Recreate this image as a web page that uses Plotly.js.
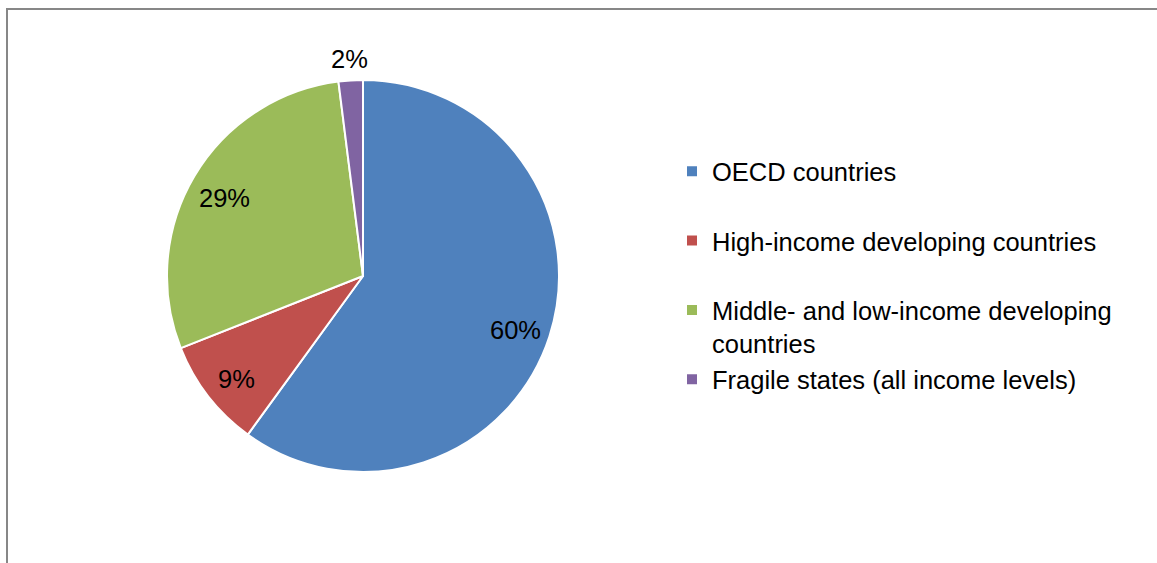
<!DOCTYPE html>
<html>
<head>
<meta charset="utf-8">
<script src="https://cdn.plot.ly/plotly-3.0.1.min.js"></script>
<style>
  html, body { margin: 0; padding: 0; background: #ffffff; }
  #chart { position: absolute; left: 0; top: 0; width: 1157px; height: 563px; }
  #bl { position: absolute; left: 6px; top: 8px; width: 2px; height: 555px; background: #878787; }
  #bt { position: absolute; left: 6px; top: 8px; width: 1151px; height: 2px; background: #878787; }
</style>
</head>
<body>
<div id="chart"></div>
<div id="bl"></div>
<div id="bt"></div>
<script>
const categories = [
  "OECD countries<br> ",
  "High-income developing countries<br> ",
  "Middle- and low-income developing<br>countries",
  "Fragile states (all income levels)"
];
const shares = [60, 9, 29, 2];
const colors = ["#4F81BD", "#C0504D", "#9BBB59", "#8064A2"];

const W = 1157, H = 563;
const mT = 80, mB = 91;
const cx = 363, r = 196;
const plotH = H - mT - mB;
const cy = mT + plotH / 2;
const FONT = "Liberation Sans, Arial, sans-serif";
const FS = 25.5;

// Data labels placed along each slice's mid-angle (clockwise from 12 o'clock)
const total = shares.reduce((a, b) => a + b, 0);
const annotations = [];
let cum = 0;
shares.forEach((v, i) => {
  const frac = v / total;
  const mid = (cum + frac / 2) * 2 * Math.PI;
  cum += frac;
  const outside = frac < 0.05;
  const rf = outside ? 1.11 : 0.82;
  const px = cx + Math.sin(mid) * r * rf;
  const py = cy - Math.cos(mid) * r * rf;
  annotations.push({
    xref: "paper", yref: "paper",
    x: px / W, y: (H - mB - py) / plotH,
    xanchor: "center", yanchor: "middle",
    yshift: outside ? 0 : -4,
    text: Math.round(frac * 100) + "%",
    showarrow: false,
    font: { family: FONT, size: FS, color: "#000000" }
  });
});

const data = [{
  type: "pie",
  labels: categories,
  values: shares,
  sort: false,
  direction: "clockwise",
  rotation: 0,
  marker: { colors: colors, line: { color: "#ffffff", width: 2 } },
  textinfo: "none",
  domain: { x: [(cx - r) / W, (cx + r) / W], y: [0, 1] },
  hoverinfo: "label+percent"
}];

const layout = {
  width: W, height: H,
  margin: { l: 0, r: 0, t: mT, b: mB },
  paper_bgcolor: "#ffffff",
  plot_bgcolor: "#ffffff",
  showlegend: true,
  font: { family: FONT, color: "#000000" },
  annotations: annotations,
  legend: {
    x: 672 / W, xanchor: "left",
    y: 0.826, yanchor: "top",
    valign: "top",
    font: { family: FONT, size: FS, color: "#000000" },
    bgcolor: "rgba(0,0,0,0)",
    traceorder: "normal"
  }
};

Plotly.newPlot("chart", data, layout, { displayModeBar: false, staticPlot: true });
</script>
</body>
</html>
